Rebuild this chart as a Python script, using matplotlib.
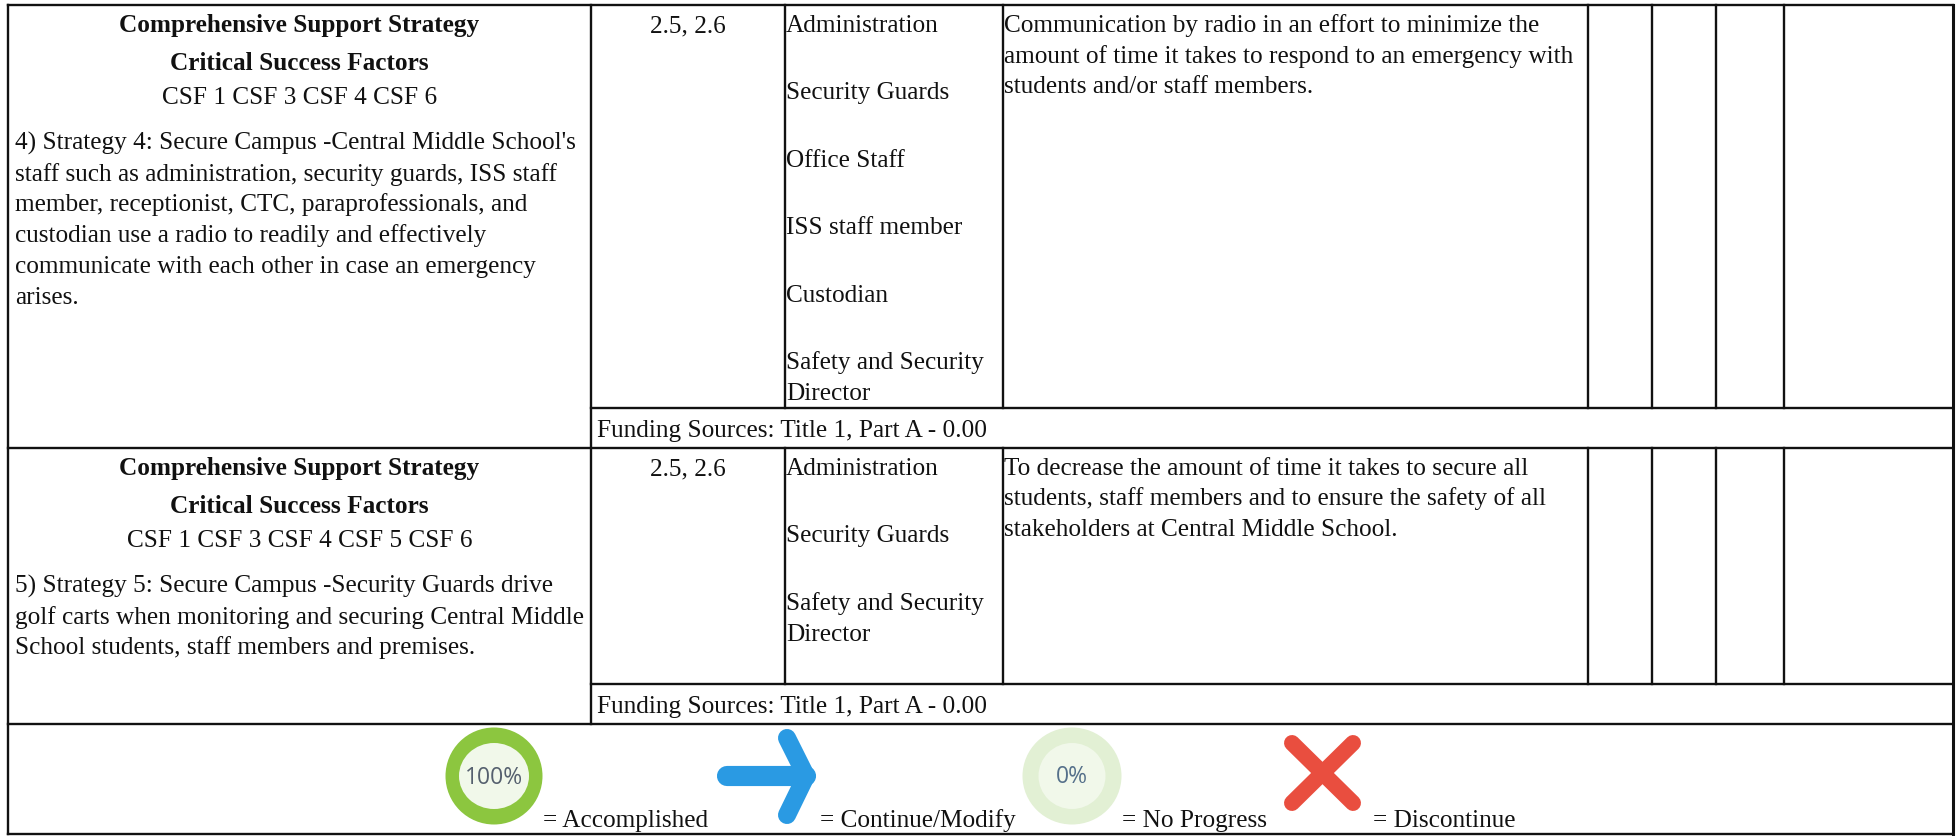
import matplotlib
matplotlib.use("Agg")
import matplotlib.pyplot as plt
from matplotlib.patches import Ellipse

W, H = 1959, 837
SERIF = "Liberation Serif"
FS = 18.15

# ---- content ----
heading = "Comprehensive Support Strategy"
subheading = "Critical Success Factors"
csf_labels = ["CSF 1 CSF 3 CSF 4 CSF 6", "CSF 1 CSF 3 CSF 4 CSF 5 CSF 6"]
strategy_text = [
    ["4) Strategy 4: Secure Campus -Central Middle School's",
     "staff such as administration, security guards, ISS staff",
     "member, receptionist, CTC, paraprofessionals, and",
     "custodian use a radio to readily and effectively",
     "communicate with each other in case an emergency",
     "arises."],
    ["5) Strategy 5: Secure Campus -Security Guards drive",
     "golf carts when monitoring and securing Central Middle",
     "School students, staff members and premises."],
]
elements = ["2.5, 2.6", "2.5, 2.6"]
staff = [
    ["Administration", "Security Guards", "Office Staff", "ISS staff member",
     "Custodian", "Safety and Security", "Director"],
    ["Administration", "Security Guards", "Safety and Security", "Director"],
]
outcome = [
    ["Communication by radio in an effort to minimize the",
     "amount of time it takes to respond to an emergency with",
     "students and/or staff members."],
    ["To decrease the amount of time it takes to secure all",
     "students, staff members and to ensure the safety of all",
     "stakeholders at Central Middle School."],
]
funding = "Funding Sources: Title 1, Part A - 0.00"
legend_labels = ["= Accomplished", "= Continue/Modify", "= No Progress", "= Discontinue"]
ring_labels = ["100%", "0%"]

# ---- layout (pixels) ----
X_L, X_M, X_STAFF, X_OUT, X_RIGHT = 8, 591, 785, 1003, 1953
X_REVIEW = [1588, 1652, 1716, 1784]
Y_TOP = [6, 449]
Y_ROWEND = [409, 685]
Y_FUNDEND = [449, 725]
Y_BOTTOM = 835
Y_HEAD = [[32, 70, 104], [475, 513, 547]]
Y_BODY = [[150, 181, 211, 242, 273, 304], [593, 624, 654]]
Y_STAFF = [[32, 99, 167, 234, 302, 369, 400], [475, 542, 610, 641]]
Y_OUT = [[32, 63, 93], [475, 505, 536]]
Y_FUND = [437, 713]
Y_LEGEND = 827
X_LEGEND = [543, 820, 1122, 1373]

fig = plt.figure(figsize=(W / 100, H / 100), dpi=100)
ax = fig.add_axes([0, 0, 1, 1])
ax.set_xlim(0, W)
ax.set_ylim(H, 0)
ax.axis("off")


def t(x, y, s, **kw):
    kw.setdefault("fontsize", FS)
    kw.setdefault("family", SERIF)
    kw.setdefault("color", "#111111")
    kw.setdefault("va", "baseline")
    ax.text(x, y, s, **kw)


LINE = dict(color="#111111", lw=1.7, solid_capstyle="projecting")
for y in [Y_TOP[0], Y_TOP[1], Y_FUNDEND[1], Y_BOTTOM]:
    ax.plot([X_L, X_RIGHT], [y, y], **LINE)
for y in Y_ROWEND:
    ax.plot([X_M, X_RIGHT], [y, y], **LINE)
ax.plot([X_L, X_L], [Y_TOP[0], Y_BOTTOM], **LINE)
ax.plot([X_RIGHT, X_RIGHT], [Y_TOP[0], Y_BOTTOM], color="#111111", lw=2.2)
ax.plot([X_M, X_M], [Y_TOP[0], Y_FUNDEND[1]], **LINE)
for top, end in zip(Y_TOP, Y_ROWEND):
    for x in [X_STAFF, X_OUT] + X_REVIEW:
        ax.plot([x, x], [top, end], **LINE)

X_LEFT_C = (X_L + X_M) / 2
X_EL_C = (X_M + X_STAFF) / 2
for i in range(2):
    t(X_LEFT_C, Y_HEAD[i][0], heading, ha="center", fontweight="bold")
    t(X_LEFT_C, Y_HEAD[i][1], subheading, ha="center", fontweight="bold")
    t(X_LEFT_C, Y_HEAD[i][2], csf_labels[i], ha="center")
    for y, s in zip(Y_BODY[i], strategy_text[i]):
        t(X_L + 7, y, s)
    t(X_EL_C, Y_OUT[i][0], elements[i], ha="center")
    for y, s in zip(Y_STAFF[i], staff[i]):
        t(X_STAFF + 1, y, s)
    for y, s in zip(Y_OUT[i], outcome[i]):
        t(X_OUT + 1, y, s)
    t(X_M + 6, Y_FUND[i], funding)

for x, s in zip(X_LEGEND, legend_labels):
    t(x, Y_LEGEND, s)

# legend icons
ICON_Y = 777
# 100 % ring
ax.add_patch(Ellipse((494, ICON_Y), 97, 97, fc="#8cc63f", ec="none"))
ax.add_patch(Ellipse((494, ICON_Y), 70, 66, fc="#f1f8ea", ec="none"))
t(494, ICON_Y + 1, ring_labels[0], ha="center", va="center", family="Open Sans",
  fontsize=16.5, color="#55606e")
# arrow
ax.plot([727, 806], [ICON_Y, ICON_Y], color="#2a9ae3", lw=14.5, solid_capstyle="round")
ax.plot([787, 806, 787], [739, ICON_Y, 816], color="#2a9ae3", lw=13,
        solid_capstyle="round", solid_joinstyle="miter")
# 0 % ring
ax.add_patch(Ellipse((1072, ICON_Y), 99, 97, fc="#e2f0d4", ec="none"))
ax.add_patch(Ellipse((1072, ICON_Y), 67, 66, fc="#f1f8ea", ec="none"))
t(1072, ICON_Y, ring_labels[1], ha="center", va="center", family="Open Sans",
  fontsize=16.5, color="#55708a")
# cross
for ya, yb in [(744, 804), (804, 744)]:
    ax.plot([1292, 1353], [ya, yb], color="#e94e3f", lw=11.5, solid_capstyle="round")

fig.savefig("out.png", dpi=100, facecolor="white")
